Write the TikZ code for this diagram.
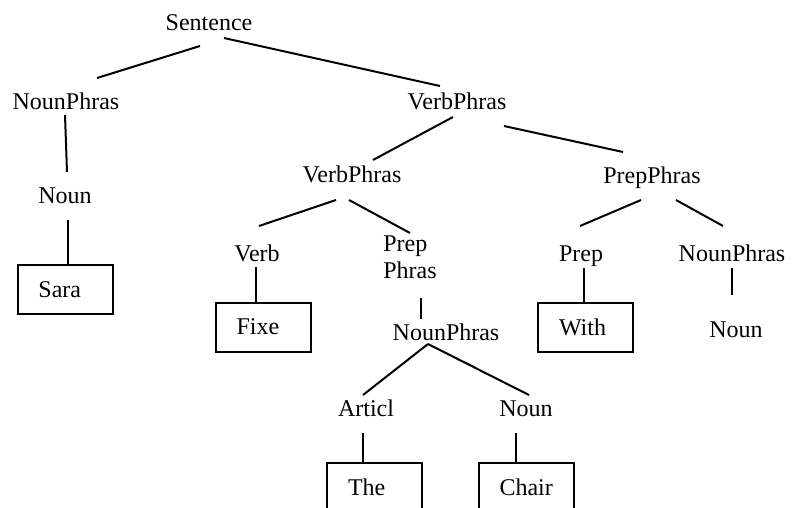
\documentclass[tikz,border=0pt]{standalone}
\usepackage{fontspec}
\setmainfont{Liberation Serif}
\usepackage{tikz}
\usetikzlibrary{calc,
	positioning}
\tikzstyle{lbl}=[inner sep=0, anchor=base, font=\fontsize{12}{14}\selectfont]
\tikzstyle{word}=[draw, line width=1pt, inner xsep=10.5pt, inner ysep=0,
		text width=26.5pt, align=left, minimum height=24.5pt,
		font=\fontsize{12}{14}\selectfont]
\tikzstyle{br}=[line width=1pt]

\begin{document}
\begin{tikzpicture}[x=0.5pt, y=-0.5pt]
                \useasboundingbox (0,0) rectangle (798,508);
                \node[lbl] (s) at (209,31) {Sentence};
                \node[lbl] (np1) at (66,110) {NounPhras};
                \node[lbl] (vp1) at (457,110) {VerbPhras};
                \node[lbl] (n1) at (65,204) {Noun};
                \node[word] (sara) at (65,289.5) {Sara};
                \node[lbl] (vp2) at (352,183) {VerbPhras};
                \node[lbl] (pp) at (652,184) {PrepPhras};
                \node[lbl] (verb) at (257,261) {Verb};
                \node[inner sep=0, align=left, font=\fontsize{12}{13.5}\selectfont] (ppr) at (410,257.5) {Prep\\Phras};
                \node[lbl] (prep) at (581,261) {Prep};
                \node[lbl] (np3) at (732,261) {NounPhras};
                \node[word] (fixe) at (263,327) {Fixe};
                \node[word] (with) at (585.5,327.5) {With};
                \node[lbl] (n3) at (736,337) {Noun};
                \node[lbl] (np2) at (446,340) {NounPhras};
                \node[lbl] (art) at (366,416) {Articl};
                \node[lbl] (n2) at (526,416) {Noun};
                \node[word] (the) at (374.5,487.5) {The};
                \node[word] (chair) at (526,487.5) {Chair};

                \draw[br] ($(s.base)+(-9,15)$) -- ($(np1.base)+(31,-32)$);
                \draw[br] ($(s.base)+(15,7)$) -- ($(vp1.base)+(-17,-24)$);
                \draw[br] ($(np1.base)+(-1,5)$) -- ($(n1.base)+(2,-32)$);
                \draw[br] ($(n1.base)+(3,16)$) -- ($(sara.north)+(3,0)$);
                \draw[br] ($(vp1.base)+(-4,7)$) -- ($(vp2.base)+(21,-23)$);
                \draw[br] ($(vp1.base)+(47,16)$) -- ($(pp.base)+(-29,-32)$);
                \draw[br] ($(vp2.base)+(-16,17)$) -- ($(verb.base)+(2,-35)$);
                \draw[br] ($(vp2.base)+(-3,17)$) -- ($(ppr.center)+(0,-24.5)$);
                \draw[br] ($(verb.base)+(-1,6)$) -- ($(fixe.north)+(-7,0)$);
                \draw[br] ($(ppr.center)+(11,40.5)$) -- ($(np2.base)+(-25,-21)$);
                \draw[br] ($(np2.base)+(-18,4)$) -- ($(art.base)+(-3,-21)$);
                \draw[br] ($(np2.base)+(-18,4)$) -- ($(n2.base)+(3,-21)$);
                \draw[br] ($(art.base)+(-3,17)$) -- ($(the.north)+(-11.5,0)$);
                \draw[br] ($(n2.base)+(-10,17)$) -- ($(chair.north)+(-10,0)$);
                \draw[br] ($(pp.base)+(-11,16)$) -- ($(prep.base)+(-1,-35)$);
                \draw[br] ($(pp.base)+(24,16)$) -- ($(np3.base)+(-9,-35)$);
                \draw[br] ($(prep.base)+(3,7)$) -- ($(with.north)+(-1.5,0)$);
                \draw[br] ($(np3.base)+(0,7)$) -- ($(n3.base)+(-4,-42)$);
\end{tikzpicture}
\end{document}
